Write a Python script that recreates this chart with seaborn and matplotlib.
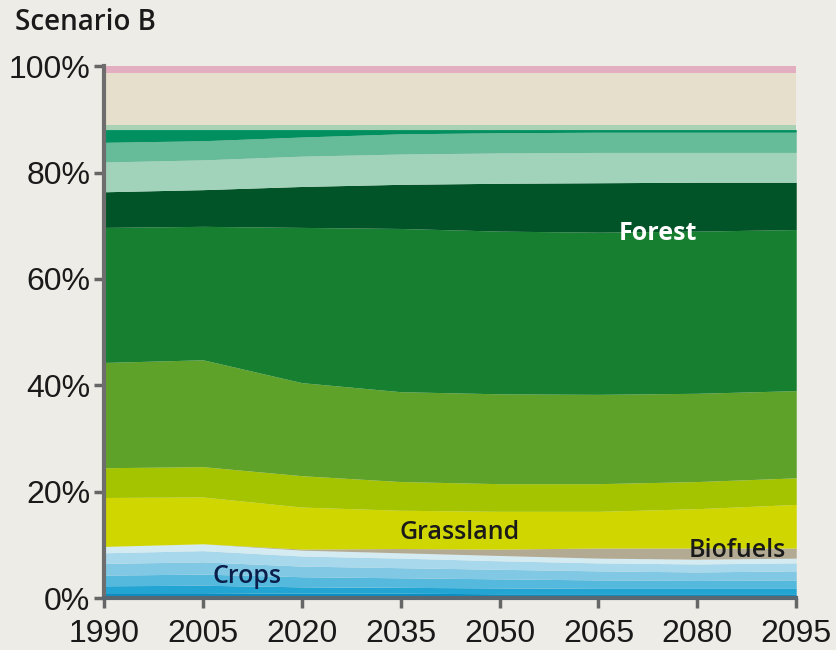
import numpy as np
import matplotlib
matplotlib.use("Agg")
import matplotlib.pyplot as plt
import seaborn as sns

years = [1990, 2005, 2020, 2035, 2050, 2065, 2080, 2095]

# crop sub-bands, bottom (dark) to top (light), % of land
crops_1 = [1.0, 1.0, 0.9, 0.9, 0.8, 0.8, 0.8, 0.8]
crops_2 = [1.3, 1.4, 1.2, 1.1, 1.1, 1.0, 1.0, 1.0]
crops_3 = [2.0, 2.1, 1.9, 1.8, 1.7, 1.6, 1.5, 1.6]
crops_4 = [2.2, 2.3, 2.0, 1.9, 1.8, 1.7, 1.6, 1.7]
crops_5 = [2.0, 2.1, 1.9, 1.8, 1.6, 1.5, 1.5, 1.5]
crops_6 = [1.2, 1.3, 1.1, 1.0, 1.0, 0.9, 0.9, 0.9]
biofuels = [0.0, 0.0, 0.2, 0.8, 1.2, 1.9, 2.1, 1.9]
grass_yellow = [9.2, 8.8, 7.9, 7.2, 7.1, 6.9, 7.4, 8.2]
grass_lime = [5.6, 5.7, 5.9, 5.4, 5.2, 5.2, 5.1, 5.0]
grass_green = [19.8, 20.1, 17.5, 16.9, 16.9, 16.8, 16.6, 16.4]
forest_main = [25.4, 25.1, 29.2, 30.7, 30.6, 30.5, 30.5, 30.3]
forest_dark = [6.7, 6.9, 7.7, 8.3, 9.0, 9.3, 9.2, 8.9]
other_light = [5.6, 5.6, 5.7, 5.7, 5.7, 5.7, 5.6, 5.6]
other_mid = [3.7, 3.6, 3.6, 3.8, 3.8, 3.8, 3.8, 3.8]
other_teal = [2.4, 2.1, 1.4, 0.8, 0.6, 0.5, 0.5, 0.5]
other_line = [0.8, 0.8, 0.8, 0.8, 0.8, 0.8, 0.8, 0.8]
desert = [9.9, 9.9, 9.9, 9.9, 9.9, 9.9, 9.9, 9.9]
ice = [1.2, 1.2, 1.2, 1.2, 1.2, 1.2, 1.2, 1.2]

layers = [crops_1, crops_2, crops_3, crops_4, crops_5, crops_6, biofuels,
          grass_yellow, grass_lime, grass_green, forest_main, forest_dark,
          other_light, other_mid, other_teal, other_line, desert, ice]
colors = ["#0a8fc2", "#22a5d3", "#55b9dd", "#80c8e4", "#a8d8ec", "#d4ebf2",
          "#b2aa92", "#d0d600", "#a5c400", "#5fa22a", "#168030", "#005428",
          "#a1d2ba", "#66bb99", "#009060", "#a9d1b3", "#e5dfcc", "#e3aec0"]

bg = "#eeece6"
sns.set_theme(style="ticks")
plt.rcParams['font.family'] = ['Open Sans', 'DejaVu Sans']
narrow = ['Liberation Sans Narrow', 'Liberation Sans', 'DejaVu Sans']

fig = plt.figure(figsize=(8.37, 6.5), dpi=100, facecolor=bg)
ax = fig.add_axes([0.1243, 0.08, 0.827, 0.818])
ax.set_facecolor(bg)

ax.stackplot(years, *layers, colors=colors, linewidth=0)

ax.set_xlim(1990, 2095)
ax.set_ylim(0, 100)
ax.set_xticks(years)
ax.set_xticklabels([str(y) for y in years], family=narrow, fontsize=23)
ax.set_yticks([0, 20, 40, 60, 80, 100])
ax.set_yticklabels(["0%", "20%", "40%", "60%", "80%", "100%"],
                   family=narrow, fontsize=23)
ax.tick_params(axis="both", colors="#666666", labelcolor="#1a1a1a",
               width=2.5, length=7, pad=3)
ax.tick_params(axis="x", pad=8)

sns.despine(ax=ax)
ax.spines["left"].set_color("#6e6e6e")
ax.spines["left"].set_linewidth(3)
ax.spines["bottom"].set_color("#5a6670")
ax.spines["bottom"].set_linewidth(3)

fig.text(0.018, 0.966, "Scenario B", fontsize=20, fontweight="semibold",
         color="#1a1a1a", va="center", ha="left")

ax.text(2074, 68.5, "Forest", color="white", fontsize=18, fontweight="bold",
        ha="center", va="center")
ax.text(2044, 12.3, "Grassland", color="#1a1a1a", fontsize=18,
        fontweight="semibold", ha="center", va="center")
ax.text(2086, 9.0, "Biofuels", color="#1a1a1a", fontsize=18,
        fontweight="semibold", ha="center", va="center")
ax.text(2011.7, 4.0, "Crops", color="#0b1e4a", fontsize=18,
        fontweight="semibold", ha="center", va="center")

fig.savefig("out.png", dpi=100, facecolor=bg)
